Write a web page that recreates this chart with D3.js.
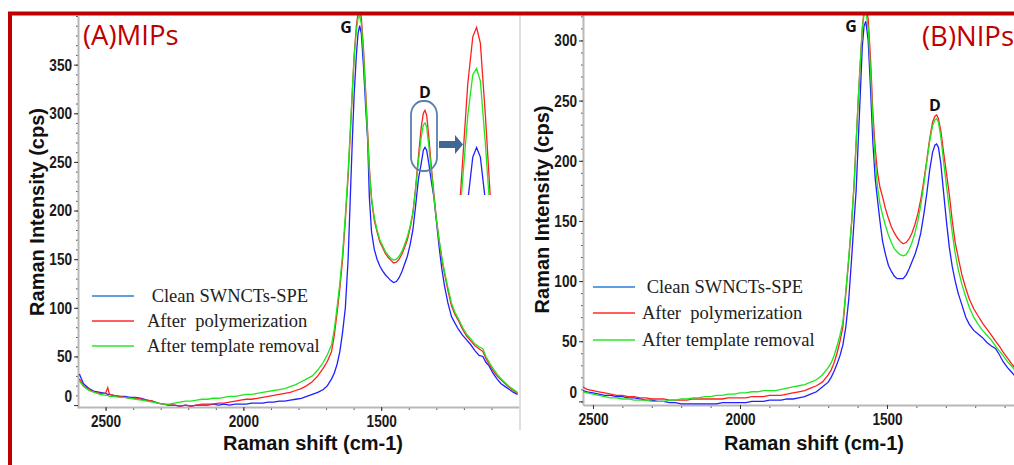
<!DOCTYPE html>
<html>
<head>
<meta charset="utf-8">
<script src="https://cdnjs.cloudflare.com/ajax/libs/d3/7.8.5/d3.min.js"></script>
<style>
    body { margin: 0; background: #fff; }
    svg { display: block; }
    .tick text { font-family: "Liberation Sans", Arial, sans-serif; font-weight: bold; font-size: 16px; fill: #1a1a1a; }
    .axis-title { font-family: "Liberation Sans", Arial, sans-serif; font-weight: bold; font-size: 20px; fill: #111; }
    .legend-text { font-family: "Liberation Serif", "Times New Roman", serif; font-size: 18.5px; fill: #222; white-space: pre; }
    .panel-title { font-family: "Open Sans", sans-serif; font-size: 27.5px; fill: #c00000; }
    .peak { font-family: "Open Sans", sans-serif; font-weight: bold; font-size: 16px; fill: #111; }
</style>
</head>
<body>
<svg id="chart" width="1014" height="465"></svg>
<script>
// (A) MIPs - Raman shift grid (cm-1) and intensities (cps)
var shiftA = [2595, 2580, 2560, 2540, 2520, 2500, 2492, 2486, 2470, 2450,
    2430, 2410, 2390, 2370, 2350, 2330, 2310, 2290, 2270, 2250,
    2230, 2210, 2190, 2170, 2150, 2130, 2110, 2090, 2070, 2050,
    2030, 2010, 1990, 1970, 1950, 1930, 1910, 1890, 1870, 1850,
    1830, 1810, 1790, 1770, 1750, 1730, 1710, 1695, 1680, 1670,
    1660, 1650, 1640, 1630, 1620, 1612, 1605, 1598, 1590, 1584,
    1578, 1572, 1564, 1556, 1549, 1543, 1535, 1525, 1515, 1505,
    1495, 1485, 1475, 1465, 1455, 1445, 1435, 1425, 1415, 1405,
    1395, 1385, 1375, 1365, 1355, 1347, 1341, 1335, 1327, 1318,
    1309, 1300, 1290, 1280, 1270, 1258, 1245, 1232, 1220, 1205,
    1190, 1175, 1160, 1145, 1131, 1120, 1108, 1095, 1080, 1065,
    1050, 1035, 1020, 1005];

var cleanA = [32, 22, 17, 14, 13, 12, 11, 11, 10, 9,
    9, 8, 8, 7, 5, 4, 2, 1, 0, 0,
    -1, 0, -1, 0, 0, 0, 1, 0, 1, 0,
    1, 1, 1, 2, 2, 2, 3, 3, 4, 4,
    5, 6, 7, 9, 11, 13, 16, 20, 27, 33,
    42, 55, 75, 100, 150, 214, 270, 320, 360, 382,
    390, 382, 347, 305, 272, 214, 178, 160, 150, 143,
    138, 134, 131, 128, 126, 127, 131, 137, 145, 153,
    165, 180, 205, 232, 248, 262, 265, 262, 248, 230,
    214, 190, 163, 140, 122, 105, 91, 84, 78, 72,
    67, 62, 56, 51, 50, 44, 40, 33, 27, 22,
    19, 16, 13, 11];

var polyA = [27, 20, 16, 13, 12, 12, 18, 11, 10, 9,
    8, 7, 7, 6, 5, 4, 2, 1, 0, 0,
    -1, 0, -1, 0, 1, 1, 1, 2, 2, 3,
    4, 5, 6, 6, 7, 8, 9, 10, 11, 12,
    13, 15, 17, 20, 24, 30, 38, 45, 55, 72,
    95, 120, 150, 190, 235, 280, 320, 360, 390, 403,
    405, 398, 365, 320, 280, 245, 211, 190, 178, 168,
    162, 156, 152, 149, 146, 147, 150, 155, 162, 170,
    182, 197, 224, 255, 285, 300, 303, 298, 275, 245,
    218, 192, 170, 150, 135, 118, 102, 93, 87, 78,
    71, 66, 61, 58, 55, 48, 42, 36, 30, 26,
    22, 18, 15, 12];

var removedA = [25, 19, 15, 13, 11, 10, 10, 9, 9, 8,
    8, 7, 6, 5, 4, 3, 2, 1, 1, 2,
    3, 4, 4, 5, 6, 6, 7, 7, 8, 9,
    9, 10, 11, 11, 12, 13, 14, 15, 16, 17,
    19, 21, 24, 27, 30, 36, 44, 52, 62, 78,
    101, 125, 156, 195, 240, 283, 322, 358, 385, 398,
    400, 392, 360, 315, 275, 240, 213, 193, 180, 170,
    164, 158, 154, 151, 149, 150, 153, 158, 165, 173,
    184, 198, 222, 250, 275, 288, 290, 286, 266, 240,
    215, 192, 170, 152, 137, 121, 105, 95, 89, 80,
    73, 68, 63, 60, 58, 50, 44, 38, 32, 27,
    23, 19, 16, 13];

// (B) NIPs
var shiftB = [2534, 2520, 2500, 2480, 2460, 2440, 2420, 2400, 2380, 2360,
    2340, 2320, 2300, 2280, 2260, 2240, 2220, 2200, 2180, 2160,
    2140, 2120, 2100, 2080, 2060, 2040, 2020, 2000, 1980, 1960,
    1940, 1920, 1900, 1880, 1860, 1840, 1820, 1800, 1780, 1760,
    1740, 1720, 1700, 1690, 1680, 1670, 1660, 1650, 1640, 1630,
    1620, 1612, 1605, 1598, 1590, 1584, 1578, 1572, 1564, 1556,
    1548, 1540, 1532, 1524, 1515, 1505, 1495, 1485, 1475, 1465,
    1455, 1445, 1435, 1425, 1415, 1405, 1395, 1385, 1375, 1365,
    1355, 1345, 1337, 1331, 1325, 1317, 1308, 1298, 1288, 1278,
    1268, 1258, 1245, 1232, 1220, 1205, 1190, 1175, 1160, 1145,
    1131, 1118, 1105, 1090, 1075, 1065];

var cleanB = [9, 8, 7, 6, 5, 5, 4, 4, 3, 3,
    2, 1, 1, 0, 0, -1, -1, -2, -2, -2,
    -2, -2, -2, -2, -1, -1, -1, -1, -1, 0,
    0, 0, 1, 1, 1, 2, 2, 3, 4, 6,
    8, 12, 16, 20, 25, 31, 38, 47, 62, 85,
    120, 150, 175, 215, 260, 295, 312, 316, 300, 260,
    215, 185, 167, 150, 133, 122, 113, 108, 104, 102,
    102, 102, 105, 110, 116, 122, 130, 140, 155, 172,
    192, 207, 213, 214, 211, 198, 175, 150, 128, 112,
    100, 90, 80, 70, 64, 59, 56, 53, 49, 46,
    44, 39, 33, 28, 24, 21];

var polyB = [12, 10, 9, 8, 7, 6, 5, 5, 4, 4,
    3, 3, 2, 2, 2, 1, 1, 1, 1, 2,
    2, 2, 2, 2, 2, 3, 3, 3, 3, 4,
    4, 4, 5, 5, 5, 6, 7, 8, 9, 11,
    13, 16, 22, 26, 32, 40, 50, 62, 90, 118,
    150, 180, 215, 250, 285, 310, 325, 330, 318, 285,
    240, 210, 190, 178, 170, 160, 152, 145, 140, 136,
    133, 131, 132, 135, 140, 147, 156, 168, 183, 200,
    218, 232, 237, 238, 235, 225, 208, 190, 172, 150,
    132, 120, 105, 94, 85, 77, 71, 65, 60, 55,
    50, 46, 41, 36, 31, 28];

var removedB = [8, 7, 6, 5, 4, 3, 3, 2, 2, 1,
    1, 1, 0, 0, 0, 1, 1, 2, 2, 3,
    3, 4, 4, 5, 5, 6, 6, 7, 7, 8,
    8, 9, 9, 9, 10, 11, 12, 13, 14, 16,
    18, 22, 28, 32, 38, 46, 55, 66, 92, 120,
    150, 180, 215, 250, 285, 310, 322, 325, 310, 275,
    232, 200, 178, 164, 155, 146, 138, 132, 127, 124,
    122, 121, 122, 126, 132, 140, 150, 163, 180, 198,
    216, 229, 234, 235, 232, 220, 200, 180, 160, 140,
    123, 110, 97, 87, 78, 70, 64, 59, 55, 51,
    46, 42, 38, 33, 29, 26];

var legendLabels = [" Clean SWNCTs-SPE", "After  polymerization", "After template removal"];
var lineColors = ["#1f1fff", "#ff1f1f", "#1ee61e"];
var legendColors = ["#2a7fd4", "#ff2a2a", "#2ae62a"];

var yTicksA = [0, 50, 100, 150, 200, 250, 300, 350];
var yTicksB = [0, 50, 100, 150, 200, 250, 300];
var xTicks = [2500, 2000, 1500];

var panels = [
    { name: "(A)MIPs", shift: shiftA, series: [cleanA, polyA, removedA],
      xDomain: [2600, 1000], yDomain: [-3, 400], left: 78, right: 519, top: 16, bottom: 408, axisY: 407,
      yTicks: yTicksA, yMinorMax: 400, titleX: 83, titleY: 45, yTitleX: 37, xTitleX: 313,
      legendX: 92, legendY: [296, 321, 346], textX: 147,
      peaks: [{ t: "G", x: 346, y: 33 }, { t: "D", x: 425, y: 98 }] },
    { name: "(B)NIPs", shift: shiftB, series: [cleanB, polyB, removedB],
      xDomain: [2534, 1068], yDomain: [-3, 322], left: 583, right: 1014, top: 14, bottom: 405, axisY: 405,
      yTicks: yTicksB, yMinorMax: 320, titleX: 922, titleY: 46, yTitleX: 542, xTitleX: 814,
      legendX: 593, legendY: [287, 313, 340], textX: 642,
      peaks: [{ t: "G", x: 851, y: 32 }, { t: "D", x: 935, y: 111 }] }
];

var svg = d3.select("#chart");
var squeeze = 0.85; // tick labels are a narrow face

function drawPanel(p, idx) {
    var x = d3.scaleLinear().domain(p.xDomain).range([p.left, p.right]);
    var y = d3.scaleLinear().domain(p.yDomain).range([p.bottom, p.top]);
    var g = svg.append("g").attr("class", "panel-" + idx);

    g.append("clipPath").attr("id", "clip" + idx)
        .append("rect")
        .attr("x", p.left).attr("y", 13)
        .attr("width", p.right - p.left).attr("height", p.bottom - 13);

    // minor ticks
    g.append("g")
        .attr("transform", "translate(" + p.left + ",0)")
        .call(d3.axisLeft(y).tickValues(d3.range(0, p.yMinorMax + 1, 10)).tickSize(2).tickFormat(""))
        .call(function (a) { a.select(".domain").remove(); a.selectAll("line").attr("stroke", "#555"); });
    g.append("g")
        .attr("transform", "translate(0," + p.axisY + ")")
        .call(d3.axisBottom(x).tickValues(d3.range(1100, 2600, 100)).tickSize(3).tickFormat(""))
        .call(function (a) { a.select(".domain").remove(); a.selectAll("line").attr("stroke", "#555"); });

    // y axis
    var yAxis = g.append("g")
        .attr("transform", "translate(" + p.left + ",0)")
        .call(d3.axisLeft(y).tickValues(p.yTicks).tickSize(4).tickSizeOuter(0).tickPadding(2).tickFormat(d3.format("d")));
    yAxis.select(".domain").attr("stroke", "#b8b8b8").attr("stroke-width", 2);
    yAxis.selectAll(".tick line").attr("stroke", "#333");
    yAxis.selectAll(".tick text")
        .attr("x", -6 / squeeze)
        .attr("transform", "scale(" + squeeze + ",1)")
        .attr("dy", function (d) { return d === 0 ? "-0.22em" : "0.34em"; });

    // x axis
    var xAxis = g.append("g")
        .attr("transform", "translate(0," + p.axisY + ")")
        .call(d3.axisBottom(x).tickValues(xTicks).tickSize(4).tickSizeOuter(0).tickPadding(5).tickFormat(d3.format("d")));
    xAxis.select(".domain").attr("stroke", "#b8b8b8").attr("stroke-width", 2);
    xAxis.selectAll(".tick line").attr("stroke", "#333");
    xAxis.selectAll(".tick text").attr("transform", "scale(" + squeeze + ",1)");

    // spectra
    var line = d3.line()
        .x(function (d, i) { return x(p.shift[i]); })
        .y(function (d) { return y(d); });

    g.append("g").attr("clip-path", "url(#clip" + idx + ")")
        .selectAll("path")
        .data(p.series)
        .enter().append("path")
        .attr("d", line)
        .attr("fill", "none")
        .attr("stroke", function (d, i) { return lineColors[i]; })
        .attr("stroke-width", 1.3);

    // legend
    var leg = g.selectAll(".legend").data(legendLabels).enter().append("g").attr("class", "legend");
    leg.append("line")
        .attr("x1", p.legendX).attr("x2", p.legendX + 42)
        .attr("y1", function (d, i) { return p.legendY[i]; })
        .attr("y2", function (d, i) { return p.legendY[i]; })
        .attr("stroke", function (d, i) { return legendColors[i]; })
        .attr("stroke-width", 1.6);
    leg.append("text")
        .attr("class", "legend-text")
        .attr("x", p.textX)
        .attr("y", function (d, i) { return p.legendY[i] + 6; })
        .text(function (d) { return d; });

    // titles
    g.append("text").attr("class", "axis-title")
        .attr("transform", "translate(" + p.yTitleX + "," + ((p.top + p.bottom) / 2) + ") rotate(-90)")
        .attr("text-anchor", "middle").attr("dy", "0.35em")
        .text("Raman Intensity (cps)");
    g.append("text").attr("class", "axis-title")
        .attr("x", p.xTitleX).attr("y", 449.5)
        .attr("text-anchor", "middle")
        .text("Raman shift (cm-1)");
    g.append("text").attr("class", "panel-title")
        .attr("x", p.titleX).attr("y", p.titleY)
        .text(p.name);

    g.selectAll(".peak").data(p.peaks).enter().append("text")
        .attr("class", "peak")
        .attr("x", function (d) { return d.x; })
        .attr("y", function (d) { return d.y; })
        .attr("text-anchor", "middle")
        .text(function (d) { return d.t; });

    return { x: x, y: y, g: g };
}

drawPanel(panels[0], 0);
drawPanel(panels[1], 1);

// magnified D band of panel A
var xIn = d3.scaleLinear().domain([1372, 1315]).range([457, 493]);
var yIn = d3.scaleLinear().domain([250, 305]).range([195, 21]);
svg.append("clipPath").attr("id", "clipInset")
    .append("rect").attr("x", 450).attr("y", 15).attr("width", 50).attr("height", 180);
svg.append("g").attr("clip-path", "url(#clipInset)")
    .selectAll("path")
    .data(panels[0].series)
    .enter().append("path")
    .attr("d", d3.line()
        .x(function (d, i) { return xIn(shiftA[i]); })
        .y(function (d) { return yIn(d); }))
    .attr("fill", "none")
    .attr("stroke", function (d, i) { return lineColors[i]; })
    .attr("stroke-width", 1.3);

// outline round the D peak and the arrow
svg.append("rect")
    .attr("x", 411).attr("y", 101).attr("width", 26).attr("height", 70)
    .attr("rx", 12).attr("ry", 14)
    .attr("fill", "none").attr("stroke", "#5a80b0").attr("stroke-width", 1.8);
svg.append("path")
    .attr("d", "M439,141 L455,141 L455,135 L463,144.5 L455,154 L455,148 L439,148 Z")
    .attr("fill", "#3f6897");

// separator and frame
svg.append("line").attr("x1", 520).attr("x2", 520).attr("y1", 15).attr("y2", 430)
    .attr("stroke", "#d4d4d4").attr("stroke-width", 1.5);
svg.append("path")
    .attr("d", "M10,465 L10,13.5 L1014,13.5")
    .attr("fill", "none").attr("stroke", "#c00000").attr("stroke-width", 4);
</script>
</body>
</html>
